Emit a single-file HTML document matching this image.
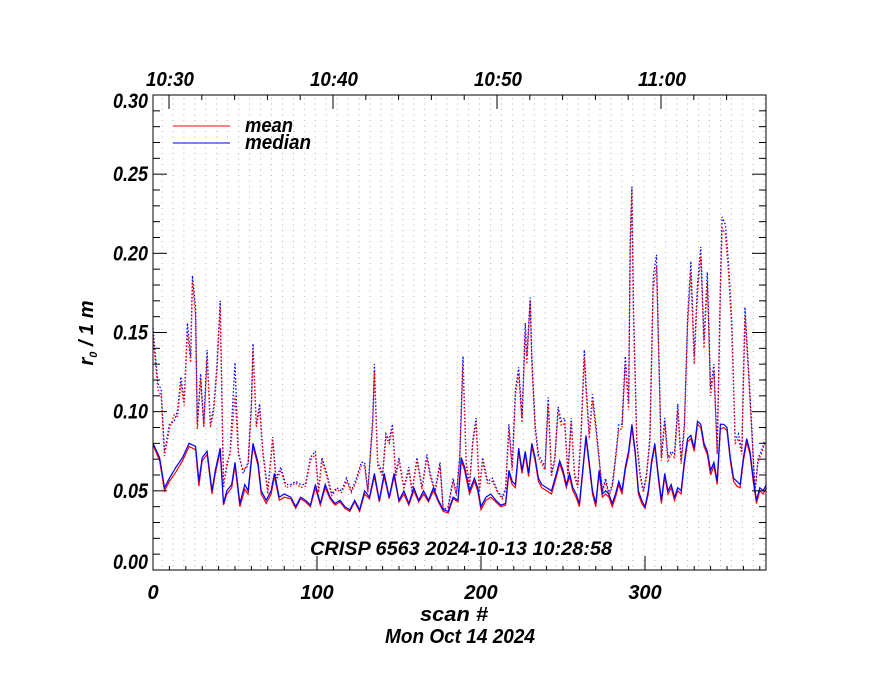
<!DOCTYPE html>
<html><head><meta charset="utf-8"><style>
body{margin:0;background:#fff;}
svg text{font-family:"Liberation Sans",sans-serif;font-weight:bold;font-style:italic;fill:#000;}
</style></head><body>
<svg id="chart" width="880" height="680" viewBox="0 0 880 680" xmlns="http://www.w3.org/2000/svg">
<g id="grid"></g>
<g id="series"></g>
<rect x="153" y="95" width="613" height="475" fill="none" stroke="#000" stroke-width="1"/>
<g id="axes"></g>
<g>
<line x1="173" y1="126" x2="230" y2="126" stroke="#f00"/>
<text x="245" y="132" font-size="20" textLength="48" lengthAdjust="spacingAndGlyphs">mean</text>
<line x1="173" y1="143" x2="230" y2="143" stroke="#00f"/>
<text x="245" y="149" font-size="20" textLength="66" lengthAdjust="spacingAndGlyphs">median</text>
</g>
<text x="310" y="555" font-size="19" textLength="302" lengthAdjust="spacingAndGlyphs">CRISP 6563 2024-10-13 10:28:58</text>
<text x="420" y="621" font-size="20" textLength="68" lengthAdjust="spacingAndGlyphs">scan #</text>
<text x="385" y="643" font-size="20" textLength="150" lengthAdjust="spacingAndGlyphs">Mon Oct 14 2024</text>
<text transform="translate(93,333) rotate(-90)" font-size="20" text-anchor="middle">r<tspan font-size="11" dy="4">0</tspan><tspan dy="-4"> / 1 m</tspan></text>
</svg>
<script>
const xTicks=[0,100,200,300];
const yTicks=[0,0.05,0.10,0.15,0.20,0.25,0.30];
const yTickLabels=["0.00","0.05","0.10","0.15","0.20","0.25","0.30"];
const timeTicks=[0,10,20,30];
const timeLabels=["10:30","10:40","10:50","11:00"];
const medScans=[0,4,7,10,14,18,22,26,28,30,33,36,38,41,43,45,48,50,53,56,58,61,64,66,69,72,74,77,80,84,87,90,93,96,99,102,105,108,111,114,117,120,123,126,129,132,135,138,141,144,147,150,153,156,159,162,165,168,171,174,177,180,183,186,188,190,193,196,198,200,203,206,209,212,215,217,219,221,223,225,227,229,231,233,235,237,240,243,246,248,250,252,254,256,258,260,262,264,266,268,270,272,274,276,278,280,282,284,286,288,290,292,294,296,298,300,302,304,306,308,310,312,314,316,318,320,322,324,326,328,330,332,334,336,338,340,342,344,346,348,350,352,354,356,358,360,362,364,366,368,370,372,374];
const medianVals=[0.080,0.071,0.052,0.058,0.065,0.071,0.080,0.078,0.056,0.071,0.075,0.050,0.063,0.077,0.042,0.050,0.054,0.068,0.042,0.054,0.050,0.080,0.068,0.050,0.044,0.050,0.061,0.046,0.048,0.046,0.040,0.046,0.044,0.041,0.054,0.042,0.054,0.046,0.042,0.044,0.040,0.038,0.044,0.038,0.050,0.046,0.061,0.044,0.061,0.046,0.061,0.044,0.050,0.042,0.052,0.044,0.050,0.044,0.052,0.044,0.038,0.037,0.046,0.044,0.071,0.065,0.050,0.058,0.052,0.040,0.046,0.048,0.044,0.041,0.042,0.063,0.056,0.054,0.077,0.063,0.075,0.061,0.080,0.071,0.058,0.054,0.052,0.050,0.061,0.069,0.063,0.054,0.061,0.052,0.048,0.042,0.063,0.085,0.068,0.050,0.042,0.063,0.048,0.050,0.048,0.042,0.048,0.056,0.050,0.065,0.075,0.092,0.075,0.050,0.044,0.040,0.050,0.069,0.080,0.061,0.044,0.061,0.050,0.054,0.046,0.052,0.050,0.069,0.083,0.085,0.077,0.094,0.092,0.080,0.075,0.063,0.068,0.056,0.092,0.092,0.090,0.071,0.058,0.056,0.054,0.071,0.083,0.075,0.058,0.044,0.052,0.050,0.054];
const meanVals=[0.079,0.069,0.050,0.056,0.062,0.069,0.078,0.076,0.053,0.069,0.073,0.048,0.061,0.075,0.041,0.048,0.052,0.066,0.040,0.051,0.048,0.078,0.066,0.048,0.042,0.048,0.059,0.044,0.046,0.045,0.039,0.045,0.043,0.040,0.052,0.041,0.052,0.045,0.041,0.043,0.039,0.037,0.043,0.037,0.048,0.045,0.059,0.043,0.059,0.045,0.059,0.043,0.048,0.041,0.050,0.043,0.048,0.043,0.050,0.043,0.037,0.036,0.045,0.043,0.069,0.063,0.048,0.056,0.050,0.038,0.044,0.046,0.043,0.040,0.041,0.061,0.054,0.052,0.075,0.061,0.073,0.059,0.078,0.069,0.056,0.052,0.050,0.048,0.059,0.067,0.061,0.052,0.059,0.050,0.046,0.040,0.061,0.083,0.066,0.048,0.040,0.061,0.046,0.048,0.046,0.040,0.046,0.054,0.048,0.063,0.073,0.090,0.073,0.048,0.042,0.039,0.048,0.067,0.078,0.059,0.042,0.059,0.048,0.052,0.044,0.050,0.048,0.067,0.081,0.083,0.075,0.092,0.090,0.078,0.073,0.060,0.066,0.054,0.089,0.090,0.088,0.069,0.056,0.053,0.052,0.069,0.081,0.073,0.056,0.042,0.050,0.048,0.052];
const dotScans=[0,3,5,7,10,13,15,17,19,21,23,24,26,27,29,31,33,35,37,39,41,43,45,47,50,52,55,58,60,61,63,65,67,70,73,75,78,81,84,87,90,93,96,99,101,103,106,109,112,115,118,121,124,127,129,131,134,135,137,140,142,144,146,148,150,153,156,158,161,164,167,169,172,175,177,180,183,185,187,189,191,193,195,197,199,201,204,207,210,213,215,217,219,221,223,225,227,228,230,231,233,235,237,239,241,243,245,247,249,251,253,255,257,259,261,263,264,266,268,270,272,274,276,278,280,282,284,286,288,290,291,292,293,295,297,299,301,303,305,307,308,310,312,314,316,318,320,322,324,326,328,330,332,334,336,338,340,342,344,346,347,349,351,353,355,357,359,361,363,365,367,369,371,373];
const medianMaxVals=[0.153,0.118,0.114,0.074,0.092,0.094,0.101,0.122,0.107,0.156,0.135,0.186,0.166,0.092,0.124,0.092,0.139,0.092,0.103,0.130,0.170,0.054,0.065,0.075,0.131,0.075,0.061,0.068,0.105,0.143,0.092,0.105,0.075,0.050,0.084,0.058,0.065,0.054,0.054,0.056,0.054,0.054,0.071,0.075,0.050,0.071,0.061,0.048,0.052,0.050,0.058,0.050,0.058,0.068,0.068,0.050,0.096,0.130,0.068,0.061,0.086,0.082,0.092,0.061,0.071,0.052,0.065,0.050,0.071,0.052,0.073,0.061,0.050,0.068,0.038,0.040,0.058,0.048,0.071,0.135,0.068,0.054,0.082,0.096,0.050,0.071,0.056,0.058,0.050,0.046,0.052,0.092,0.065,0.114,0.128,0.096,0.156,0.135,0.172,0.135,0.092,0.073,0.069,0.065,0.109,0.061,0.071,0.103,0.094,0.096,0.061,0.096,0.061,0.054,0.086,0.139,0.118,0.086,0.111,0.092,0.071,0.050,0.058,0.048,0.054,0.071,0.092,0.092,0.135,0.105,0.208,0.242,0.166,0.082,0.061,0.050,0.061,0.084,0.185,0.199,0.156,0.071,0.096,0.071,0.075,0.073,0.105,0.069,0.092,0.160,0.195,0.135,0.181,0.204,0.145,0.188,0.114,0.130,0.075,0.181,0.223,0.218,0.193,0.156,0.082,0.086,0.075,0.166,0.130,0.092,0.050,0.071,0.075,0.082];
const meanMaxVals=[0.148,0.114,0.110,0.072,0.089,0.098,0.097,0.118,0.104,0.150,0.131,0.182,0.160,0.089,0.120,0.090,0.134,0.090,0.100,0.126,0.166,0.052,0.068,0.073,0.110,0.073,0.063,0.066,0.102,0.140,0.090,0.102,0.073,0.048,0.082,0.056,0.063,0.052,0.053,0.055,0.052,0.053,0.069,0.073,0.049,0.069,0.059,0.047,0.051,0.049,0.056,0.049,0.056,0.066,0.066,0.049,0.093,0.125,0.066,0.059,0.084,0.080,0.089,0.059,0.069,0.051,0.063,0.049,0.069,0.051,0.071,0.059,0.049,0.066,0.037,0.039,0.056,0.047,0.069,0.130,0.066,0.052,0.080,0.093,0.049,0.069,0.054,0.056,0.049,0.045,0.050,0.089,0.063,0.110,0.124,0.093,0.150,0.130,0.170,0.131,0.089,0.071,0.067,0.063,0.105,0.059,0.069,0.100,0.091,0.093,0.059,0.093,0.059,0.052,0.083,0.134,0.114,0.083,0.107,0.089,0.069,0.049,0.056,0.047,0.052,0.069,0.089,0.089,0.130,0.101,0.200,0.240,0.160,0.080,0.059,0.049,0.059,0.081,0.178,0.192,0.150,0.069,0.093,0.069,0.073,0.071,0.101,0.067,0.089,0.154,0.188,0.130,0.175,0.198,0.140,0.182,0.110,0.126,0.073,0.175,0.216,0.212,0.187,0.150,0.080,0.083,0.073,0.160,0.126,0.089,0.049,0.069,0.073,0.080];

const NS="http://www.w3.org/2000/svg";
const X0=153,X1=766,Y0=570,Y1=95;
function xScale(s){return X0+s*1.64;}
function yScale(v){return Y0-(v/0.30)*(Y0-Y1);}
function tScale(m){return 169+m*16.4;}
function mk(tag,attrs,parent){const e=document.createElementNS(NS,tag);for(const k in attrs)e.setAttribute(k,attrs[k]);parent.appendChild(e);return e;}
const grid=document.getElementById('grid'),axes=document.getElementById('axes'),series=document.getElementById('series');
for(let x=X0+9;x<X1;x+=10.95){
  const l=mk('line',{x1:x,y1:Y1+3,x2:x,y2:Y0,stroke:'#b0b0b0','stroke-width':1,'stroke-dasharray':'1 4.5'},grid);
  
  
}
for(let i=0;i<=30;i++){
  const v=i*0.01,y=yScale(v),major=i%5===0,len=major?14:7;
  const a=mk('line',{x1:X0,y1:y,x2:X0+len,y2:y,stroke:'#000'},axes);
  
  
  const b=mk('line',{x1:X1,y1:y,x2:X1-len,y2:y,stroke:'#000'},axes);
  
  
}
yTicks.forEach((v,i)=>{
  let off=7; if(i===0) off=-1; if(i===yTicks.length-1) off=13;
  const t=mk('text',{x:113,y:yScale(v)+off,'font-size':21,textLength:35,lengthAdjust:'spacingAndGlyphs'},axes);t.textContent=yTickLabels[i];
  
  
});
for(let s=0;s<=370;s+=10){
  const major=s%100===0,len=major?14:4;
  const a=mk('line',{x1:xScale(s),y1:Y0,x2:xScale(s),y2:Y0-len,stroke:'#000'},axes);
  
  
}
xTicks.forEach(s=>{
  const t=mk('text',{x:xScale(s),y:599,'font-size':20,'text-anchor':'middle'},axes);t.textContent=s;
  
  
});
for(let m=0;m<36;m+=2){
  const x=tScale(m);if(x<X0||x>X1)continue;
  const major=m%10===0,len=major?14:5;
  const a=mk('line',{x1:x,y1:Y1,x2:x,y2:Y1+len,stroke:'#000'},axes);
  
  
}
timeTicks.forEach((m,i)=>{
  const t=mk('text',{x:tScale(m)-23,y:86,'font-size':20,textLength:48,lengthAdjust:'spacingAndGlyphs'},axes);t.textContent=timeLabels[i];
  
  
});
function path(xs,vs){return xs.map((s,i)=>(i?'L':'M')+xScale(s).toFixed(1)+','+yScale(vs[i]).toFixed(1)).join('');}
const p1=mk('path',{d:path(dotScans,medianMaxVals),fill:'none',stroke:'#00f','stroke-width':1.3,'stroke-dasharray':'1.5 2'},series);


const p2=mk('path',{d:path(dotScans,meanMaxVals),fill:'none',stroke:'#f00','stroke-width':1.3,'stroke-dasharray':'1.5 2','stroke-dashoffset':1.7},series);


const p3=mk('path',{d:path(medScans,meanVals),fill:'none',stroke:'#f00','stroke-width':1.2},series);


const p4=mk('path',{d:path(medScans,medianVals),fill:'none',stroke:'#00f','stroke-width':1.2},series);


</script>
</body></html>
